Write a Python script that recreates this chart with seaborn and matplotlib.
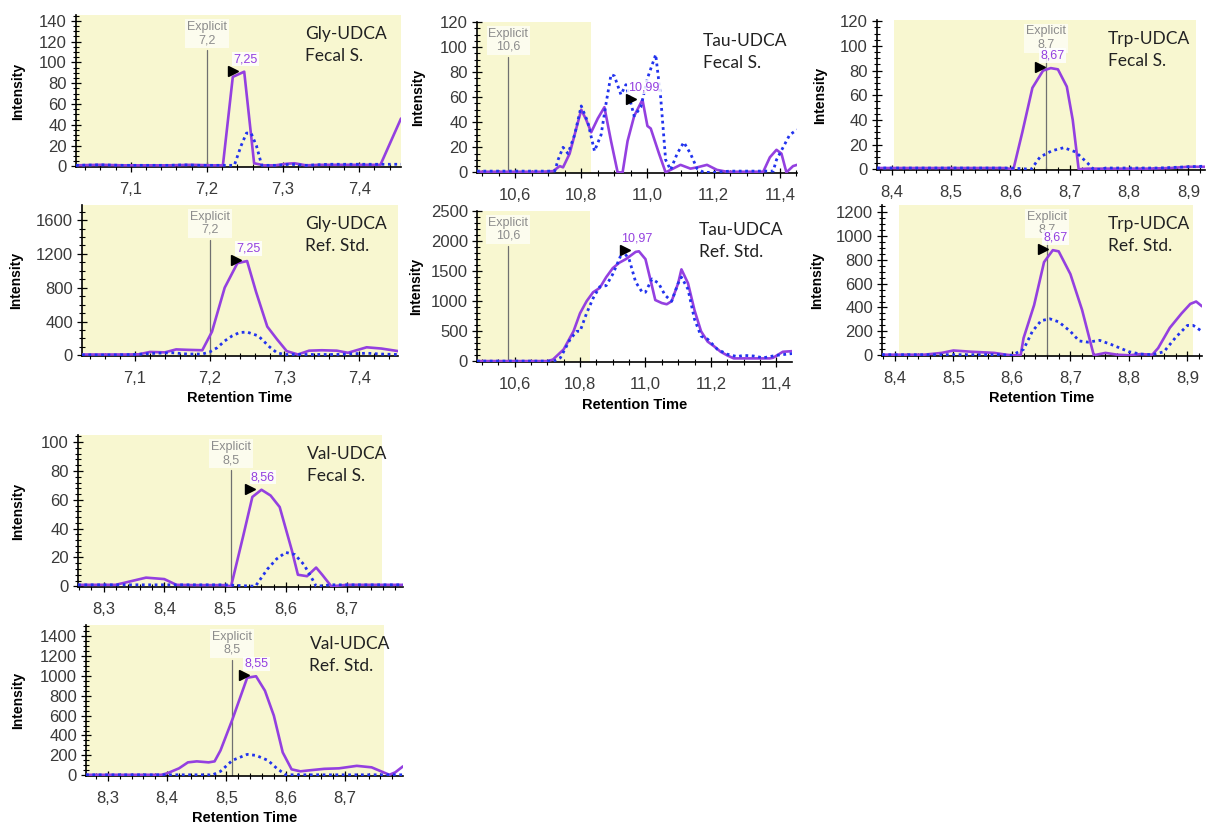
import numpy as np
import pandas as pd
import matplotlib
matplotlib.use("Agg")
import matplotlib.pyplot as plt
import matplotlib.transforms as mtransforms
from matplotlib.ticker import MultipleLocator, AutoMinorLocator, FuncFormatter
import seaborn as sns

# ---------------- data ----------------
panel_titles = ["Gly-UDCA\nFecal S.", "Gly-UDCA\nRef. Std.", "Tau-UDCA\nFecal S.", "Tau-UDCA\nRef. Std.",
                "Trp-UDCA\nFecal S.", "Trp-UDCA\nRef. Std.", "Val-UDCA\nFecal S.", "Val-UDCA\nRef. Std."]
explicit_rt = [7.2, 7.2, 10.58, 10.58, 8.66, 8.66, 8.51, 8.51]
explicit_labels = ["7,2", "7,2", "10,6", "10,6", "8,7", "8,7", "8,5", "8,5"]
peak_rt = [7.249, 7.25, 10.985, 10.97, 8.668, 8.672, 8.56, 8.548]
peak_int = [91, 1115, 58, 1830, 82, 880, 67, 995]
peak_labels = ["7,25", "7,25", "10,99", "10,97", "8,67", "8,67", "8,56", "8,55"]
shade_start = [7.0, 7.0, 10.4, 10.4, 8.403, 8.407, 8.2, 8.2]
shade_end = [7.5, 7.5, 10.83, 10.83, 8.912, 8.91, 8.759, 8.766]

gly_fecal_rt_s = [7.028, 7.06, 7.09, 7.12, 7.15, 7.18, 7.205, 7.221, 7.234, 7.249, 7.262, 7.275, 7.29, 7.305, 7.315, 7.33, 7.35, 7.38, 7.41, 7.428, 7.455]
gly_fecal_int_s = [1, 1.5, 1, 1, 1, 1.5, 1, 1, 86, 91, 3, 1, 1, 2.5, 3, 1, 1.5, 1.5, 1.5, 1.5, 46]
gly_fecal_rt_d = [7.028, 7.06, 7.09, 7.12, 7.15, 7.17, 7.19, 7.22, 7.236, 7.245, 7.252, 7.258, 7.265, 7.272, 7.29, 7.31, 7.33, 7.36, 7.40, 7.43, 7.455]
gly_fecal_int_d = [1, 1.5, 1, 1, 1, 1.5, 1, 1, 1, 20, 32, 32, 20, 1, 1, 2, 1, 2, 2, 2, 2]

gly_ref_rt_s = [7.029, 7.06, 7.09, 7.105, 7.12, 7.14, 7.155, 7.17, 7.19, 7.203, 7.22, 7.237, 7.25, 7.262, 7.277, 7.29, 7.303, 7.318, 7.333, 7.35, 7.37, 7.385, 7.41, 7.43, 7.452]
gly_ref_int_s = [10, 10, 10, 12, 40, 35, 70, 65, 60, 280, 800, 1090, 1115, 750, 340, 190, 50, 10, 55, 60, 55, 30, 95, 80, 50]
gly_ref_rt_d = [7.029, 7.07, 7.10, 7.13, 7.15, 7.17, 7.19, 7.20, 7.21, 7.22, 7.23, 7.24, 7.25, 7.265, 7.28, 7.29, 7.30, 7.33, 7.37, 7.41, 7.43, 7.452]
gly_ref_int_d = [5, 5, 10, 25, 30, 15, 15, 40, 90, 170, 230, 270, 275, 230, 100, 30, 10, 10, 10, 25, 15, 10]

tau_fecal_rt_s = [10.485, 10.55, 10.62, 10.68, 10.715, 10.735, 10.745, 10.765, 10.78, 10.80, 10.815, 10.83, 10.85, 10.87, 10.89, 10.91, 10.925, 10.94, 10.96, 10.985, 11.0, 11.01, 11.035, 11.055, 11.07, 11.10, 11.13, 11.15, 11.18, 11.21, 11.24, 11.30, 11.35, 11.37, 11.39, 11.405, 11.42, 11.44, 11.452]
tau_fecal_int_s = [0.5, 0.5, 0.5, 0.5, 1, 5, 4, 15, 30, 50, 42, 32, 43, 52, 25, 0, 0, 25, 45, 58, 37, 35, 15, 0, 2, 6, 3, 4, 6, 2, 0.5, 0.5, 0.5, 12, 18, 15, 0, 5, 6]
tau_fecal_rt_d = [10.485, 10.55, 10.62, 10.68, 10.72, 10.73, 10.745, 10.76, 10.78, 10.80, 10.82, 10.84, 10.86, 10.875, 10.89, 10.90, 10.92, 10.935, 10.96, 10.98, 11.0, 11.025, 11.04, 11.055, 11.07, 11.09, 11.11, 11.13, 11.15, 11.17, 11.20, 11.25, 11.30, 11.38, 11.39, 11.41, 11.43, 11.452]
tau_fecal_int_d = [1, 1, 1, 1, 1, 10, 20, 15, 30, 53, 40, 17, 30, 55, 78, 77, 62, 70, 45, 52, 75, 94, 60, 10, 2, 15, 24, 15, 3, 0, 0, 1, 1, 1, 10, 20, 30, 34]

tau_ref_rt_s = [10.485, 10.55, 10.62, 10.70, 10.717, 10.75, 10.78, 10.80, 10.82, 10.84, 10.86, 10.88, 10.90, 10.92, 10.94, 10.97, 10.98, 11.00, 11.02, 11.03, 11.05, 11.065, 11.08, 11.10, 11.11, 11.13, 11.15, 11.17, 11.19, 11.21, 11.23, 11.25, 11.27, 11.30, 11.34, 11.38, 11.39, 11.42, 11.448]
tau_ref_int_s = [5, 5, 5, 5, 30, 200, 500, 800, 1000, 1150, 1220, 1400, 1550, 1640, 1700, 1820, 1830, 1700, 1250, 1020, 970, 950, 1000, 1300, 1530, 1300, 850, 500, 330, 250, 160, 100, 50, 50, 50, 50, 60, 160, 170]
tau_ref_rt_d = [10.485, 10.55, 10.62, 10.70, 10.72, 10.74, 10.77, 10.79, 10.80, 10.82, 10.84, 10.86, 10.88, 10.90, 10.92, 10.93, 10.95, 10.97, 10.99, 11.00, 11.02, 11.04, 11.06, 11.08, 11.10, 11.11, 11.13, 11.15, 11.17, 11.19, 11.22, 11.25, 11.28, 11.30, 11.33, 11.36, 11.40, 11.448]
tau_ref_int_d = [5, 5, 5, 5, 5, 60, 370, 500, 500, 800, 1050, 1240, 1260, 1450, 1700, 1840, 1700, 1320, 1150, 1150, 1370, 1300, 1100, 1000, 1300, 1400, 1200, 700, 420, 370, 200, 120, 80, 100, 90, 60, 100, 130]

trp_fecal_rt_s = [8.375, 8.42, 8.47, 8.52, 8.56, 8.59, 8.605, 8.62, 8.637, 8.655, 8.668, 8.68, 8.695, 8.705, 8.715, 8.73, 8.78, 8.83, 8.87, 8.90, 8.928]
trp_fecal_int_s = [1, 1, 1, 1, 1, 1, 0, 30, 66, 80, 82, 81, 67, 40, 0, 0.5, 0.5, 0.5, 1, 2, 2]
trp_fecal_rt_d = [8.375, 8.42, 8.47, 8.52, 8.56, 8.60, 8.635, 8.65, 8.67, 8.69, 8.71, 8.73, 8.74, 8.755, 8.76, 8.80, 8.85, 8.90, 8.928]
trp_fecal_int_d = [1, 1, 1, 1, 1, 1, 0, 10, 15, 17.5, 14, 5, 0, 0, 1, 1, 1, 2, 2.5]

trp_ref_rt_s = [8.378, 8.42, 8.45, 8.48, 8.50, 8.53, 8.57, 8.59, 8.60, 8.615, 8.62, 8.638, 8.655, 8.67, 8.68, 8.70, 8.72, 8.74, 8.76, 8.78, 8.80, 8.82, 8.84, 8.85, 8.87, 8.89, 8.905, 8.915, 8.925]
trp_ref_int_s = [5, 5, 5, 20, 40, 30, 20, 5, 0, 0, 144, 420, 780, 880, 870, 680, 380, 0, 20, 5, 0, 10, 5, 60, 230, 350, 430, 450, 410]
trp_ref_rt_d = [8.378, 8.45, 8.52, 8.58, 8.60, 8.62, 8.635, 8.65, 8.665, 8.68, 8.70, 8.715, 8.73, 8.75, 8.77, 8.80, 8.82, 8.84, 8.86, 8.88, 8.90, 8.91, 8.925]
trp_ref_int_d = [5, 5, 5, 5, 0, 50, 200, 290, 305, 280, 200, 120, 110, 125, 90, 30, 10, 5, 30, 150, 250, 250, 200]

val_fecal_rt_s = [8.258, 8.30, 8.32, 8.34, 8.37, 8.40, 8.42, 8.45, 8.50, 8.51, 8.53, 8.545, 8.56, 8.575, 8.59, 8.61, 8.62, 8.635, 8.65, 8.66, 8.675, 8.70, 8.75, 8.793]
val_fecal_int_s = [1, 1, 1, 3, 6, 5, 1, 0.8, 0.8, 0, 35, 62, 67, 63, 55, 25, 8, 7, 13, 8, 0, 1, 1, 1]
val_fecal_rt_d = [8.258, 8.30, 8.35, 8.40, 8.45, 8.50, 8.55, 8.57, 8.585, 8.60, 8.615, 8.63, 8.645, 8.65, 8.675, 8.70, 8.75, 8.793]
val_fecal_int_d = [1, 1, 1, 1, 1, 1, 0, 12, 19, 23.5, 22, 15, 4, 0, 1, 1, 1, 1]

val_ref_rt_s = [8.263, 8.30, 8.35, 8.39, 8.40, 8.42, 8.435, 8.45, 8.47, 8.48, 8.49, 8.51, 8.535, 8.55, 8.565, 8.58, 8.595, 8.61, 8.625, 8.64, 8.665, 8.69, 8.72, 8.745, 8.765, 8.775, 8.785, 8.798]
val_ref_int_s = [5, 5, 5, 5, 20, 70, 130, 140, 130, 140, 250, 560, 980, 995, 850, 600, 230, 60, 40, 50, 65, 70, 95, 80, 30, 5, 30, 90]
val_ref_rt_d = [8.263, 8.32, 8.38, 8.43, 8.47, 8.475, 8.49, 8.51, 8.535, 8.55, 8.57, 8.585, 8.60, 8.65, 8.70, 8.75, 8.798]
val_ref_int_d = [5, 5, 5, 5, 5, 0, 40, 150, 210, 200, 150, 70, 5, 5, 5, 5, 5]

series = [
    (gly_fecal_rt_s, gly_fecal_int_s, gly_fecal_rt_d, gly_fecal_int_d),
    (gly_ref_rt_s, gly_ref_int_s, gly_ref_rt_d, gly_ref_int_d),
    (tau_fecal_rt_s, tau_fecal_int_s, tau_fecal_rt_d, tau_fecal_int_d),
    (tau_ref_rt_s, tau_ref_int_s, tau_ref_rt_d, tau_ref_int_d),
    (trp_fecal_rt_s, trp_fecal_int_s, trp_fecal_rt_d, trp_fecal_int_d),
    (trp_ref_rt_s, trp_ref_int_s, trp_ref_rt_d, trp_ref_int_d),
    (val_fecal_rt_s, val_fecal_int_s, val_fecal_rt_d, val_fecal_int_d),
    (val_ref_rt_s, val_ref_int_s, val_ref_rt_d, val_ref_int_d),
]

# ---------------- layout / style ----------------
W, H = 1206, 827
# (left, right, top, bottom) in pixels
boxes = [(76, 401, 15, 167), (82, 398, 205, 356),
         (477, 797, 22, 173), (477, 792, 211, 362),
         (877, 1205, 20, 170), (882, 1202, 205, 356),
         (78, 403, 435, 587), (86, 403, 625, 776)]
xlims = [(7.028, 7.455), (7.029, 7.452), (10.485, 11.452), (10.485, 11.448),
         (8.375, 8.928), (8.378, 8.925), (8.258, 8.793), (8.263, 8.798)]
ylims = [(-0.6, 145.5), (-8, 1778), (-0.5, 120), (-10, 2500),
         (-0.6, 121), (-6, 1258), (-0.5, 105), (-7, 1510)]
y_major = [20, 400, 20, 500, 20, 200, 20, 200]
y_minor_n = [4, 4, 4, 5, 4, 4, 5, 4]
x_major = [0.1, 0.1, 0.2, 0.2, 0.1, 0.1, 0.1, 0.1]
x_minor_n = [5, 5, 4, 4, 5, 5, 5, 5]
ylabel_px = [18, 16, 418, 416, 820, 817, 18, 18]
xlabel_px = [None, 398, None, 405, None, 398, None, 818]

SOLID = "#9440E0"
DOT = "#2233EE"
SHADE = "#F8F7D0"
TICKC = "#3a3a3a"

sns.set_style("ticks")
plt.rcParams["font.family"] = ["Liberation Sans", "DejaVu Sans"]

fig = plt.figure(figsize=(W / 100, H / 100), dpi=100)
fig.patch.set_facecolor("white")

comma1 = FuncFormatter(lambda v, p: f"{v:.1f}".replace(".", ","))
intfmt = FuncFormatter(lambda v, p: f"{v:.0f}")

for i in range(8):
    l, r, t, b = boxes[i]
    ax = fig.add_axes([l / W, 1 - b / H, (r - l) / W, (b - t) / H])
    ax.set_facecolor("white")
    ax.set_xlim(*xlims[i])
    ax.set_ylim(*ylims[i])
    ax.axvspan(shade_start[i], shade_end[i], color=SHADE, zorder=0, lw=0)

    rs, is_, rd, id_ = series[i]
    sns.lineplot(x=rs, y=is_, ax=ax, color=SOLID, lw=1.9, estimator=None, sort=False, zorder=3)
    sns.lineplot(x=rd, y=id_, ax=ax, color=DOT, lw=2.0, estimator=None, sort=False, zorder=4,
                 linestyle=(0, (1, 1.3)))

    blend = mtransforms.blended_transform_factory(ax.transData, ax.transAxes)
    ax.plot([explicit_rt[i], explicit_rt[i]], [0.0, 0.77], transform=blend, color="#707070", lw=0.9, zorder=2)
    ax.text(explicit_rt[i], 0.795, "Explicit\n" + explicit_labels[i], transform=blend, ha="center", va="bottom",
            fontsize=9, color="#8c8c8c", linespacing=1.15, zorder=6,
            bbox=dict(boxstyle="square,pad=0.15", fc="white", ec="none", alpha=0.65))

    ax.annotate(peak_labels[i], xy=(peak_rt[i], peak_int[i]), xytext=(1, 9), textcoords="offset points",
                ha="center", va="center", fontsize=9, color=SOLID, zorder=7,
                bbox=dict(boxstyle="square,pad=0.1", fc="white", ec="none", alpha=0.85))
    tri = mtransforms.offset_copy(ax.transData, fig=fig, x=-8, y=0.8, units="points")
    ax.plot([peak_rt[i]], [peak_int[i]], marker=">", ms=6.5, color="black", transform=tri, zorder=8,
            clip_on=False)

    ax.text(0.705, 0.925, panel_titles[i], transform=ax.transAxes, ha="left", va="top",
            fontsize=12.5, family=["Lato", "DejaVu Sans"], color="#222222", linespacing=1.45, zorder=6)

    for side in ["top", "right"]:
        ax.spines[side].set_visible(False)
    for side in ["left", "bottom"]:
        ax.spines[side].set_color("black")
        ax.spines[side].set_linewidth(1.2)

    ax.yaxis.set_major_locator(MultipleLocator(y_major[i]))
    ax.yaxis.set_minor_locator(AutoMinorLocator(y_minor_n[i]))
    ax.xaxis.set_major_locator(MultipleLocator(x_major[i]))
    ax.xaxis.set_minor_locator(AutoMinorLocator(x_minor_n[i]))
    ax.xaxis.set_major_formatter(comma1)
    ax.yaxis.set_major_formatter(intfmt)
    ax.tick_params(which="major", direction="inout", length=7, width=0.9, colors="black",
                   labelsize=12, labelcolor=TICKC, pad=3)
    ax.tick_params(axis="x", which="major", pad=7)
    ax.tick_params(which="minor", direction="inout", length=4, width=0.8, colors="black")

    ax.set_ylabel("Intensity", fontsize=10, fontweight="bold", color="black")
    ax.yaxis.set_label_coords((ylabel_px[i] + 7 - l) / (r - l), 0.5)
    if xlabel_px[i] is not None:
        ax.set_xlabel("Retention Time", fontsize=10.5, fontweight="bold", color="black")
        ax.xaxis.set_label_coords(0.5, -(xlabel_px[i] - 7 - b) / (b - t))
    else:
        ax.set_xlabel("")

fig.savefig("out.png", dpi=100)
